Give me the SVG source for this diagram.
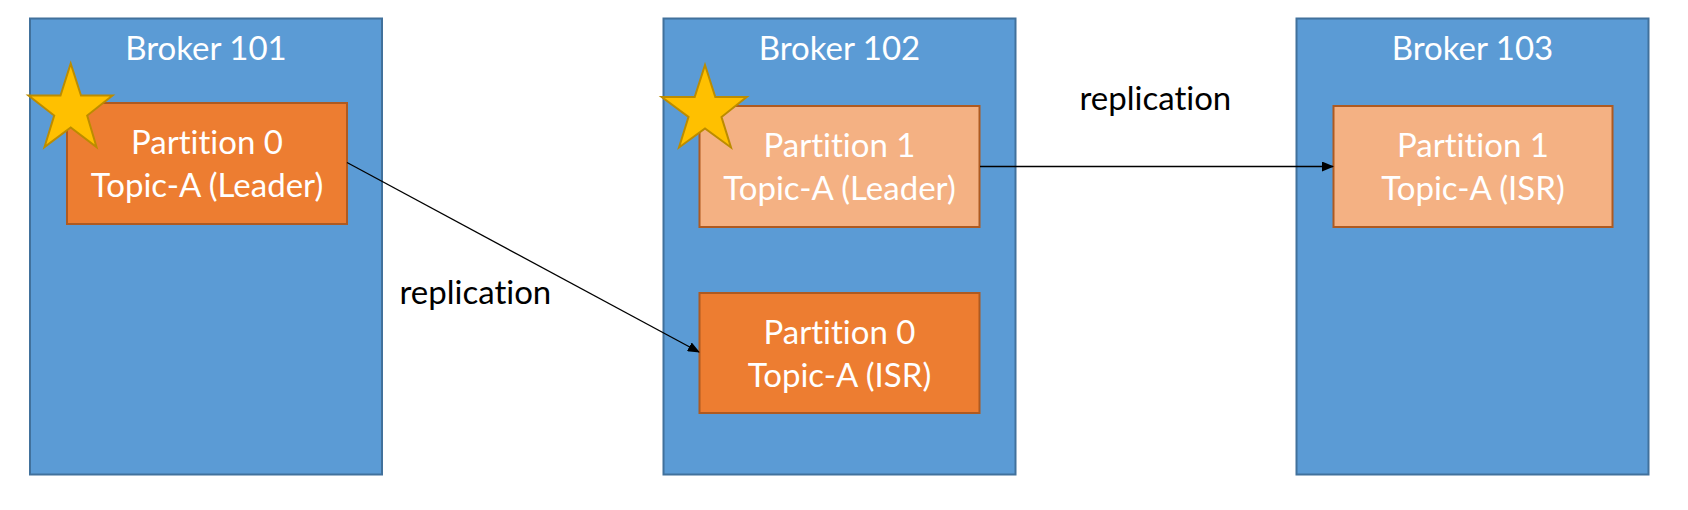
<svg xmlns="http://www.w3.org/2000/svg" width="1688" height="510" viewBox="0 0 1688 510">
<style>
.broker{fill:#5B9BD5;stroke:#41719C;stroke-width:2}
.pdark{fill:#ED7D31;stroke:#AE5A21;stroke-width:2}
.plight{fill:#F4B183;stroke:#AE5A21;stroke-width:2}
.star{fill:#FFC000;stroke:#BC8C00;stroke-width:2;stroke-linejoin:miter}
.t{font-family:Lato,"Liberation Sans",sans-serif;font-size:33px;fill:#FFFFFF;text-anchor:middle;font-variant-ligatures:none}
.lbl{font-family:Lato,"Liberation Sans",sans-serif;font-size:33px;fill:#000000;font-variant-ligatures:none}
.conn{stroke:#000000;stroke-width:1.3;fill:none;marker-end:url(#arr)}
</style>
<defs>
<marker id="arr" markerWidth="12" markerHeight="10" refX="11" refY="5" orient="auto" markerUnits="userSpaceOnUse">
<path d="M0,0 L12,5 L0,10 Z" fill="#000000"/>
</marker>
</defs>
<rect width="1688" height="510" fill="#FFFFFF"/>
<g id="broker101">
<rect class="broker" x="30" y="18.5" width="352" height="456"/>
<text class="t" x="206" y="60">Broker 101</text>
</g>
<g id="broker102">
<rect class="broker" x="663.5" y="18.5" width="352" height="456"/>
<text class="t" x="839.5" y="60">Broker 102</text>
</g>
<g id="broker103">
<rect class="broker" x="1296.5" y="18.5" width="352" height="456"/>
<text class="t" x="1472.5" y="60">Broker 103</text>
</g>
<g id="p0-leader">
<rect class="pdark" x="67" y="103" width="280" height="121"/>
<text class="t" x="207" y="154">Partition 0</text>
<text class="t" x="207" y="197">Topic-A (Leader)</text>
</g>
<g id="star1">
<polygon class="star" points="70.7,63.5 81,95.5 112.5,95.5 87.2,115.5 96.5,147 70.7,127.5 44.5,147 54.2,115.5 28.5,95.5 60.5,95.5"/>
</g>
<g id="p1-leader">
<rect class="plight" x="699.5" y="106" width="280" height="121"/>
<text class="t" x="839.5" y="157">Partition 1</text>
<text class="t" x="839.5" y="200">Topic-A (Leader)</text>
</g>
<g id="star2">
<polygon class="star" points="705,65 715.3,97 746.7,97 721.5,117 731,147.5 705,128.5 679,147.5 688.5,117 661.7,97 694.7,97"/>
</g>
<g id="p0-isr">
<rect class="pdark" x="699.5" y="293" width="280" height="120"/>
<text class="t" x="839.5" y="343.5">Partition 0</text>
<text class="t" x="839.5" y="386.5">Topic-A (ISR)</text>
</g>
<g id="p1-isr">
<rect class="plight" x="1333.5" y="106" width="279" height="121"/>
<text class="t" x="1473" y="157">Partition 1</text>
<text class="t" x="1473" y="200">Topic-A (ISR)</text>
</g>
<g id="connectors">
<line class="conn" x1="347" y1="162.5" x2="699" y2="352"/>
<line class="conn" x1="980" y1="166.5" x2="1333" y2="166.5"/>
<text class="lbl" x="399.5" y="304">replication</text>
<text class="lbl" x="1079.5" y="110">replication</text>
</g>
</svg>
